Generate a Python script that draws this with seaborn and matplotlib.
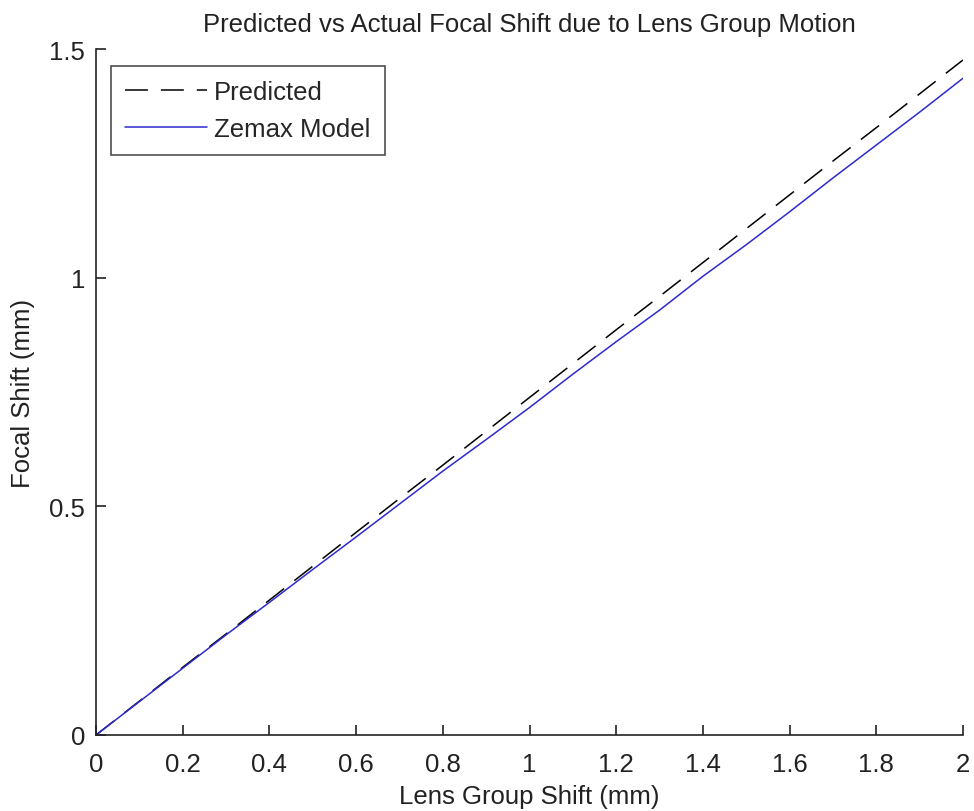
import matplotlib
matplotlib.use("Agg")
import matplotlib.pyplot as plt
import seaborn as sns
import pandas as pd

lens_shift = [0.0, 0.1, 0.2, 0.3, 0.4, 0.5, 0.6, 0.7, 0.8, 0.9, 1.0,
              1.1, 1.2, 1.3, 1.4, 1.5, 1.6, 1.7, 1.8, 1.9, 2.0]
predicted = [0.0, 0.074, 0.148, 0.221, 0.295, 0.369, 0.443, 0.517, 0.590, 0.664, 0.738,
             0.812, 0.886, 0.959, 1.033, 1.107, 1.181, 1.255, 1.328, 1.402, 1.476]
zemax = [0.0, 0.073, 0.146, 0.219, 0.290, 0.362, 0.433, 0.505, 0.577, 0.646, 0.716,
         0.789, 0.860, 0.929, 1.003, 1.072, 1.144, 1.218, 1.290, 1.362, 1.436]

x_ticks = [0, 0.2, 0.4, 0.6, 0.8, 1, 1.2, 1.4, 1.6, 1.8, 2]
x_ticklabels = ["0", "0.2", "0.4", "0.6", "0.8", "1", "1.2", "1.4", "1.6", "1.8", "2"]
y_ticks = [0, 0.5, 1, 1.5]
y_ticklabels = ["0", "0.5", "1", "1.5"]

sns.set_style("white")
plt.rcParams['font.family'] = ['Liberation Sans', 'DejaVu Sans']

FS = 18.5
DASH = [15, 8.5]

fig = plt.figure(figsize=(9.74, 8.12), dpi=100)
ax = fig.add_axes([96/974, 76/812, 867/974, 686/812])

df_pred = pd.DataFrame({"x": lens_shift, "y": predicted})
df_zem = pd.DataFrame({"x": lens_shift, "y": zemax})
sns.lineplot(data=df_pred, x="x", y="y", ax=ax, color="black", lw=1.1,
             label="Predicted")
ax.lines[-1].set_dashes(DASH)
sns.lineplot(data=df_zem, x="x", y="y", ax=ax, color="#2b2bd0", lw=1.1,
             label="Zemax Model")

ax.set_xlim(0, 2)
ax.set_ylim(0, 1.5)
ax.set_xticks(x_ticks)
ax.set_xticklabels(x_ticklabels)
ax.set_yticks(y_ticks)
ax.set_yticklabels(y_ticklabels)
ax.tick_params(direction="in", length=7, width=1.2, labelsize=FS,
               colors="#222222", bottom=True, left=True)
ax.tick_params(axis="x", pad=12)
ax.tick_params(axis="y", pad=8)
for s in ["top", "right"]:
    ax.spines[s].set_visible(False)
for s in ["left", "bottom"]:
    ax.spines[s].set_color("#222222")
    ax.spines[s].set_linewidth(1.2)

ax.set_title("Predicted vs Actual Focal Shift due to Lens Group Motion",
             fontsize=FS, pad=13, color="#222222")
ax.set_xlabel("Lens Group Shift (mm)", fontsize=FS, labelpad=6, color="#222222")
ax.set_ylabel("Focal Shift (mm)", fontsize=FS, labelpad=10, color="#222222")

leg = ax.legend(loc="upper left", bbox_to_anchor=(15/867, 1 - 17/686), fontsize=FS,
                frameon=True, fancybox=False, handlelength=3.2, handletextpad=0.27,
                borderpad=0.55, labelspacing=0.5, borderaxespad=0)
leg.get_frame().set_edgecolor("#222222")
leg.get_frame().set_linewidth(1.2)
leg.get_lines()[0].set_dashes(DASH)

fig.savefig("out.png", dpi=100)
